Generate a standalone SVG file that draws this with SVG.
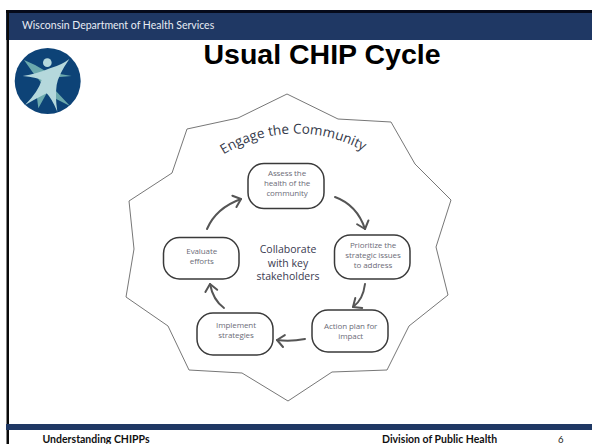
<svg xmlns="http://www.w3.org/2000/svg" width="592" height="444" viewBox="0 0 592 444">
<style>
.sans{font-family:"Open Sans","Liberation Sans",sans-serif}
.lbl{font-family:"Open Sans","Liberation Sans",sans-serif;font-size:8px;letter-spacing:-0.1px;fill:#6c6c78;text-anchor:middle}
.box{fill:#fff;stroke:#3a3a3a;stroke-width:1.5}
.arr{fill:none;stroke:#555;stroke-width:2;stroke-linecap:round;marker-end:url(#open)}
.foot{font-family:"Lato","Liberation Sans",sans-serif;font-size:10.500px;font-weight:700;fill:#111}
</style>
<defs>
<marker id="open" markerUnits="userSpaceOnUse" markerWidth="20" markerHeight="20" refX="10" refY="10" orient="auto" overflow="visible">
<path d="M3,4 L10,10 L3,16" fill="none" stroke="#555" stroke-width="2" stroke-linecap="round" stroke-linejoin="round"/>
</marker>
<path id="arc" d="M217,159 A137,137 0 0 1 370,155"/>
</defs>
<rect width="592" height="444" fill="#fff"/>
<g id="frame">
<rect x="6" y="13" width="586" height="27" fill="#1f3864"/>
<rect x="6" y="10" width="586" height="3" fill="#050a1a"/>
<rect x="6.500" y="10" width="2.500" height="434" fill="#0a0a0a"/>
<rect x="6" y="424" width="586" height="6" fill="#1f3864"/>
<text x="22" y="29" font-family="Lato, 'Liberation Sans', sans-serif" font-size="10.500" fill="#e8ecf4">Wisconsin Department of Health Services</text>
<text x="322" y="64" text-anchor="middle" font-family="'Liberation Sans', Arial, sans-serif" font-weight="700" font-size="28.500" fill="#000">Usual CHIP Cycle</text>
<text x="42.500" y="443" class="foot">Understanding CHIPPs</text>
<text x="382" y="443" class="foot">Division of Public Health</text>
<text x="558" y="443" font-family="Lato, 'Liberation Sans', sans-serif" font-size="9.500" fill="#222">6</text>
</g>
<g id="logo">
<circle cx="47.700" cy="81" r="33" fill="#0d4377"/>
<g transform="scale(0.3333)">
<path d="M72,180 Q110,195 140,215 L215,228 L170,232 L165,270 L210,318 L155,290 L140,280 L115,325 L110,285 L125,250 Q95,215 72,180Z" fill="#6ba9ad"/>
<path d="M68,228 Q110,222 150,205 Q185,195 208,177 Q175,225 170,255 Q165,290 172,335 Q155,295 140,280 Q110,295 75,315 Q115,275 125,240 Q110,232 68,228Z" fill="#b5d8dc"/>
<circle cx="142" cy="188" r="13" fill="#b5d8dc"/>
</g>
</g>
<g id="star">
<polygon points="287,94 338,119 391,122 415,164 451,200 436,247 448,295 409,326 387,370 332,372 288,401 242,373 189,370 168,326 126,297 134,249 129,201 172,173 187,129 238,118" fill="none" stroke="#777" stroke-width="1"/>
<text class="sans" font-size="13.500" fill="#333848"><textPath href="#arc" startOffset="50%" text-anchor="middle">Engage the Community</textPath></text>
</g>
<g id="connectors">
<path class="arr" d="M207,229 Q216,208 241,199"/>
<path class="arr" d="M335,197 Q357,205 365,229"/>
<path class="arr" d="M365,284 Q363,300 353,307"/>
<path class="arr" d="M305,339 Q290,342 277,340"/>
<path class="arr" d="M224,308 Q213,300 210,284"/>
</g>
<g id="node-assess">
<rect class="box" x="248" y="163.500" width="76" height="45" rx="16"/>
<text class="lbl" x="287" y="175.500">Assess the</text><text class="lbl" x="287" y="185.500">health of the</text><text class="lbl" x="287" y="195.500">community</text>
</g>
<g id="node-prioritize">
<rect class="box" x="334.500" y="235" width="75.500" height="44" rx="16"/>
<text class="lbl" x="373" y="247.700">Prioritize the</text><text class="lbl" x="373" y="257.700">strategic issues</text><text class="lbl" x="373" y="267.700">to address</text>
</g>
<g id="node-action">
<rect class="box" x="312" y="310" width="76" height="42" rx="16"/>
<text class="lbl" x="350.700" y="328.700">Action plan for</text><text class="lbl" x="350.700" y="338.700">impact</text>
</g>
<g id="node-implement">
<rect class="box" x="197" y="313" width="76" height="42" rx="16"/>
<text class="lbl" x="236" y="328">Implement</text><text class="lbl" x="236" y="338">strategies</text>
</g>
<g id="node-evaluate">
<rect class="box" x="163.500" y="237.500" width="75.500" height="41.500" rx="16"/>
<text class="lbl" x="201.700" y="254">Evaluate</text><text class="lbl" x="201.700" y="264">efforts</text>
</g>
<g id="center">
<text class="sans" font-size="10.500" fill="#3a3a50" text-anchor="middle" x="288" y="253">Collaborate</text>
<text class="sans" font-size="10.500" fill="#3a3a50" text-anchor="middle" x="288" y="267">with key</text>
<text class="sans" font-size="10.500" fill="#3a3a50" text-anchor="middle" x="288" y="280">stakeholders</text>
</g>
</svg>
